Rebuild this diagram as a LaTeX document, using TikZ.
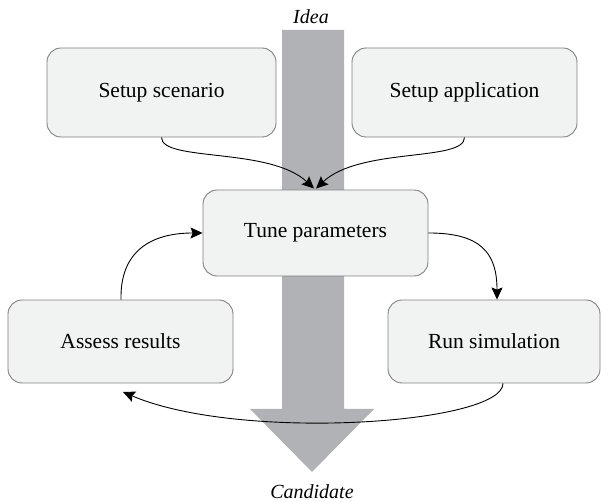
\documentclass[tikz,border=0pt]{standalone}
\usepackage{fontspec}
\setmainfont{Liberation Serif}
\usetikzlibrary{arrows.meta}
\definecolor{boxfill}{HTML}{F1F2F2}
\definecolor{boxline}{HTML}{7F8081}
\definecolor{flowgray}{HTML}{B1B2B5}
\begin{document}
\begin{tikzpicture}[x=1pt,y=1pt,
  stepbox/.style={draw=boxline,line width=0.9pt,fill=boxfill,rounded corners=14pt,
    minimum width=#1,minimum height=86pt,inner sep=0pt,font=\fontsize{21.5}{24}\selectfont},
  link/.style={line width=0.9pt,-{Stealth[length=12pt,width=11pt,inset=2pt]}},
  tag/.style={font=\fontsize{20}{23}\selectfont\itshape}]
\useasboundingbox (0,0) rectangle (608,502);
% wide gray flow arrow from idea to candidate
\fill[flowgray] (282,472) -- (344,472) -- (344,93) -- (374,93) -- (312,30) -- (250,93) -- (282,93) -- cycle;
\node[tag] (idea) at (311,485) {Idea};
\node[tag] (cand) at (312,10) {Candidate};
% process steps
\node[stepbox=229pt,minimum height=89pt] (scen) at (161.5,409.5) {Setup scenario};
\node[stepbox=225pt,minimum height=89pt] (app) at (464.5,409.5) {Setup application};
\node[stepbox=225pt] (tune) at (315.5,269) {Tune parameters};
\node[stepbox=225pt,minimum height=83pt] (assess) at (120.5,160.5) {Assess results};
\node[stepbox=212pt,minimum height=83pt] (run) at (494,160.5) {Run simulation};
% connectors
\coordinate (inL) at ([xshift=-1.5pt,yshift=1pt]tune.north);
\coordinate (inR) at ([xshift=0.5pt,yshift=1pt]tune.north);
\draw[link] (scen.south) .. controls (161.5,340) and (270,355) .. (inL);
\draw[link] (app.south) .. controls (464.5,340) and (360,355) .. (inR);
\draw[link] (tune.east) .. controls (480,269) and (497,250) .. ([xshift=3pt]run.north);
\draw[link] ([xshift=0.5pt]assess.north) .. controls (120,250) and (150,269) .. (tune.west);
\coordinate (back) at (123,110);
\draw[link] ([xshift=9pt]run.south) .. controls (503,78) and (240,60) .. (back);
\end{tikzpicture}
\end{document}
